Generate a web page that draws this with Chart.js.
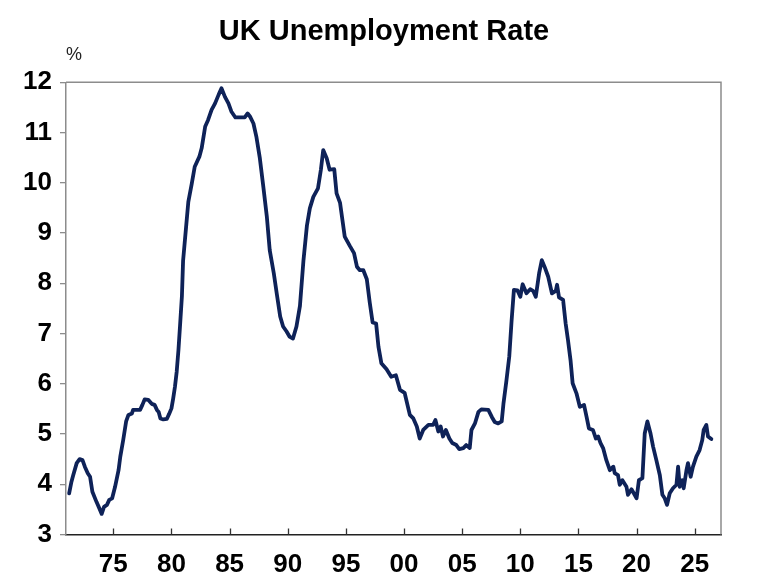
<!DOCTYPE html>
<html>
<head>
<meta charset="utf-8">
<script src="https://cdn.jsdelivr.net/npm/chart.js@4.4.1/dist/chart.umd.min.js"></script>
<style>
  html, body { margin: 0; padding: 0; background: #ffffff; }
  #wrap { width: 768px; height: 586px; position: relative; }
</style>
</head>
<body>
<div id="wrap"><canvas id="c"></canvas></div>
<script>
// ---- data ----
const chartTitle = 'UK Unemployment Rate';
const unitLabel = '%';

const years = [
  1971.2, 1971.4, 1971.55, 1971.85, 1972.1, 1972.35, 1972.55, 1972.8, 1973.0, 1973.2,
  1973.55, 1973.8, 1974.0, 1974.2, 1974.45, 1974.65, 1974.9, 1975.15, 1975.45, 1975.6,
  1975.85, 1976.1, 1976.3, 1976.6, 1976.7, 1977.3, 1977.5, 1977.7, 1978.0, 1978.3,
  1978.55, 1978.75, 1978.9, 1979.05, 1979.3, 1979.6, 1979.8, 1980.0, 1980.15, 1980.3,
  1980.45, 1980.6, 1980.75, 1980.9, 1981.0, 1981.25, 1981.45, 1981.75, 1982.0, 1982.4,
  1982.6, 1982.9, 1983.15, 1983.45, 1983.75, 1984.05, 1984.3, 1984.6, 1984.9, 1985.15,
  1985.5, 1986.3, 1986.55, 1986.75, 1987.05, 1987.3, 1987.6, 1987.9, 1988.2, 1988.45,
  1988.8, 1989.05, 1989.35, 1989.6, 1989.9, 1990.15, 1990.45, 1990.75, 1991.05, 1991.35,
  1991.65, 1991.9, 1992.2, 1992.6, 1992.85, 1993.05, 1993.35, 1993.6, 1994.0, 1994.2,
  1994.5, 1994.9, 1995.35, 1995.7, 1995.95, 1996.2, 1996.5, 1996.8, 1997.05, 1997.3,
  1997.6, 1997.8, 1998.05, 1998.5, 1998.9, 1999.3, 1999.65, 2000.05, 2000.5, 2000.8,
  2001.1, 2001.35, 2001.65, 2002.1, 2002.5, 2002.7, 2002.95, 2003.15, 2003.35, 2003.6,
  2003.9, 2004.15, 2004.5, 2004.75, 2005.1, 2005.35, 2005.65, 2005.8, 2006.1, 2006.4,
  2006.65, 2007.25, 2007.55, 2007.8, 2008.1, 2008.4, 2008.55, 2008.8, 2009.05, 2009.25,
  2009.45, 2009.75, 2010.0, 2010.2, 2010.53, 2010.85, 2011.1, 2011.33, 2011.62, 2011.85,
  2012.1, 2012.4, 2012.72, 2013.05, 2013.16, 2013.33, 2013.68, 2013.9, 2014.1, 2014.32,
  2014.5, 2014.83, 2015.12, 2015.48, 2015.7, 2015.9, 2016.25, 2016.5, 2016.7, 2016.9,
  2017.12, 2017.4, 2017.7, 2018.0, 2018.12, 2018.4, 2018.55, 2018.78, 2019.13, 2019.26,
  2019.56, 2019.76, 2020.0, 2020.2, 2020.5, 2020.7, 2020.93, 2021.2, 2021.42, 2021.7,
  2022.0, 2022.22, 2022.42, 2022.62, 2022.85, 2023.13, 2023.43, 2023.57, 2023.71, 2023.94,
  2024.05, 2024.29, 2024.42, 2024.65, 2024.85, 2025.14, 2025.42, 2025.65, 2025.77, 2026.0,
  2026.14, 2026.43
];

const rates = [
  3.82, 4.05, 4.18, 4.42, 4.50, 4.48, 4.35, 4.22, 4.15, 3.85,
  3.65, 3.52, 3.41, 3.55, 3.59, 3.69, 3.72, 3.95, 4.28, 4.55,
  4.88, 5.25, 5.38, 5.41, 5.48, 5.48, 5.58, 5.69, 5.68, 5.60,
  5.58, 5.48, 5.44, 5.31, 5.29, 5.30, 5.40, 5.51, 5.71, 5.94,
  6.24, 6.67, 7.20, 7.75, 8.45, 9.10, 9.62, 9.99, 10.32, 10.52,
  10.69, 11.12, 11.25, 11.45, 11.58, 11.75, 11.88, 11.71, 11.58, 11.42,
  11.30, 11.30, 11.38, 11.32, 11.18, 10.92, 10.49, 9.92, 9.33, 8.66,
  8.20, 7.80, 7.34, 7.14, 7.04, 6.94, 6.90, 7.14, 7.55, 8.45,
  9.15, 9.49, 9.72, 9.89, 10.26, 10.65, 10.49, 10.26, 10.27, 9.79,
  9.60, 8.93, 8.74, 8.60, 8.33, 8.26, 8.26, 8.08, 7.62, 7.22,
  7.20, 6.74, 6.41, 6.29, 6.14, 6.17, 5.88, 5.82, 5.38, 5.31,
  5.15, 4.91, 5.08, 5.18, 5.18, 5.28, 5.05, 5.15, 4.95, 5.08,
  4.91, 4.82, 4.78, 4.70, 4.72, 4.78, 4.72, 5.08, 5.21, 5.44,
  5.49, 5.48, 5.34, 5.24, 5.21, 5.25, 5.60, 6.05, 6.54, 7.25,
  7.87, 7.86, 7.73, 7.98, 7.80, 7.88, 7.85, 7.73, 8.20, 8.46,
  8.32, 8.13, 7.80, 7.85, 7.97, 7.72, 7.67, 7.20, 6.87, 6.47,
  6.01, 5.81, 5.54, 5.58, 5.34, 5.11, 5.08, 4.91, 4.95, 4.82,
  4.72, 4.48, 4.28, 4.35, 4.22, 4.18, 3.99, 4.08, 3.95, 3.79,
  3.90, 3.82, 3.72, 4.08, 4.12, 5.01, 5.25, 5.01, 4.75, 4.48,
  4.18, 3.79, 3.72, 3.59, 3.82, 3.92, 3.99, 4.35, 3.95, 4.08,
  3.92, 4.28, 4.42, 4.15, 4.35, 4.55, 4.68, 4.88, 5.08, 5.18,
  4.95, 4.90
];

const xTicks = [1975, 1980, 1985, 1990, 1995, 2000, 2005, 2010, 2015, 2020, 2025];
const yTicks = [3, 4, 5, 6, 7, 8, 9, 10, 11, 12];
const xMin = 1970.93, xMax = 2027.26;
const yMin = 3, yMax = 12;

// ---- chart ----
const FONT = '"Liberation Sans", Arial, Helvetica, sans-serif';
const points = years.map((y, i) => ({ x: y, y: rates[i] }));

const decor = {
  id: 'decor',
  afterDraw(chart) {
    const { ctx, chartArea: a, scales } = chart;
    const x = scales.x;
    ctx.save();
    // top and right frame
    ctx.strokeStyle = '#8c8c8c';
    ctx.lineWidth = 1.5;
    ctx.beginPath();
    ctx.moveTo(a.left, a.top);
    ctx.lineTo(a.right, a.top);
    ctx.lineTo(a.right, a.bottom);
    ctx.stroke();
    // inward x tick marks
    ctx.strokeStyle = '#333333';
    ctx.lineWidth = 1.3;
    x.ticks.forEach(t => {
      const px = Math.round(x.getPixelForValue(t.value)) + 0.5;
      ctx.beginPath();
      ctx.moveTo(px, a.bottom);
      ctx.lineTo(px, a.bottom - 6);
      ctx.stroke();
    });
    // unit label
    ctx.fillStyle = '#222222';
    ctx.font = '18px ' + FONT;
    ctx.textAlign = 'left';
    ctx.textBaseline = 'alphabetic';
    ctx.fillText(unitLabel, a.left, 59.5);
    ctx.restore();
  }
};

new Chart(document.getElementById('c'), {
  type: 'line',
  data: {
    datasets: [{
      data: points,
      borderColor: '#0e2258',
      borderWidth: 3.8,
      pointRadius: 0,
      tension: 0,
      fill: false,
      borderJoinStyle: 'round',
      borderCapStyle: 'round'
    }]
  },
  options: {
    responsive: true,
    maintainAspectRatio: false,
    animation: false,
    layout: { padding: { top: 0, left: 0, right: 0, bottom: 0 } },
    plugins: {
      legend: { display: false },
      tooltip: { enabled: false },
      title: {
        display: true,
        text: chartTitle,
        color: '#000000',
        font: { family: FONT, size: 29, weight: 'bold' },
        padding: { top: 15, bottom: 32.5 }
      }
    },
    scales: {
      x: {
        type: 'linear',
        min: xMin,
        max: xMax,
        afterBuildTicks: s => { s.ticks = xTicks.map(v => ({ value: v })); },
        afterFit: s => { s.height = 51.5; },
        ticks: {
          autoSkip: false,
          maxRotation: 0,
          padding: 7,
          color: '#000000',
          font: { family: FONT, size: 26, weight: 'bold' },
          callback: v => String(Math.round(v) % 100).padStart(2, '0')
        },
        grid: { display: false },
        border: { display: true, color: '#222222', width: 1.5 }
      },
      y: {
        type: 'linear',
        position: 'left',
        min: yMin,
        max: yMax,
        afterBuildTicks: s => { s.ticks = yTicks.map(v => ({ value: v })); },
        afterFit: s => { s.width = 66; },
        ticks: {
          padding: 8,
          color: '#000000',
          font: { family: FONT, size: 26, weight: 'bold' },
          callback: v => String(v)
        },
        grid: { display: true, drawOnChartArea: false, drawTicks: true, tickLength: 6, color: '#8c8c8c', lineWidth: 1.3 },
        border: { display: true, color: '#8c8c8c', width: 1.5 }
      },
      yRight: {
        type: 'linear',
        position: 'right',
        min: 0,
        max: 1,
        afterFit: s => { s.width = 47; },
        ticks: { display: false },
        grid: { display: false },
        border: { display: false }
      }
    }
  },
  plugins: [decor]
});
</script>
</body>
</html>
